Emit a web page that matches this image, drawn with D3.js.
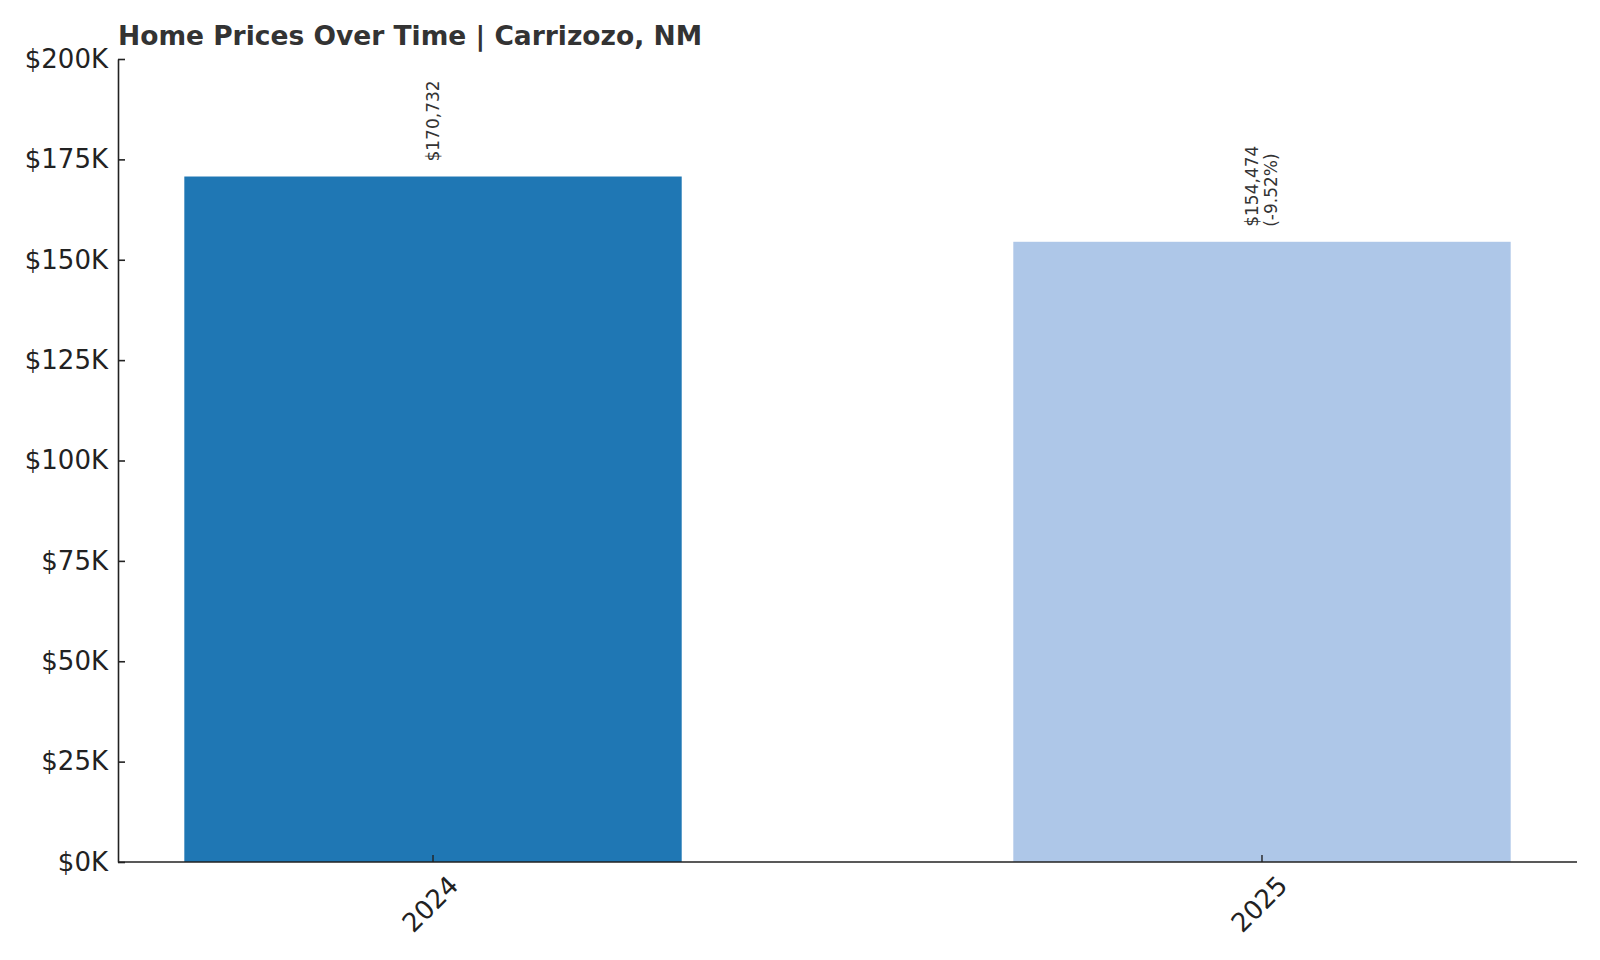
<!DOCTYPE html>
<html>
<head>
<meta charset="utf-8">
<script src="https://cdn.jsdelivr.net/npm/d3@7"></script>
<style>
  body { margin: 0; background: #fff; }
  text { font-family: "DejaVu Sans", sans-serif; }
</style>
</head>
<body>
<script>
var years = ["2024", "2025"];
var prices = [170732, 154474];
var changeLabels = [null, "(-9.52%)"];
var barColors = ["#1f77b4", "#aec7e8"];
var yTicks = [0, 25000, 50000, 75000, 100000, 125000, 150000, 175000, 200000];

var width = 1600, height = 960;
var margin = { left: 118, right: 23, top: 59, bottom: 98 };

var svg = d3.select("body").append("svg")
  .attr("width", width)
  .attr("height", height);

// index scale, bars 0.6 wide with 5% side margins
var xi = d3.scaleLinear().domain([-0.38, 1.38]).range([margin.left, width - margin.right]);
var barW = xi(0.3) - xi(-0.3);

var y = d3.scaleLinear().domain([0, 200000]).range([height - margin.bottom, margin.top]);

svg.selectAll("rect.bar")
  .data(prices)
  .enter().append("rect")
  .attr("class", "bar")
  .attr("x", function(d, i) { return xi(i) - barW / 2; })
  .attr("y", function(d) { return y(d); })
  .attr("width", barW)
  .attr("height", function(d) { return y(0) - y(d); })
  .attr("fill", function(d, i) { return barColors[i]; });

// value labels, rotated
prices.forEach(function(d, i) {
  var g = svg.append("g")
    .attr("transform", "translate(" + xi(i) + "," + (y(d) - 15) + ") rotate(-90)");
  var lines = ["$" + d3.format(",")(d)];
  if (changeLabels[i]) lines.push(changeLabels[i]);
  var t = g.append("text")
    .attr("fill", "#333")
    .attr("font-size", 17)
    .attr("text-anchor", "start");
  var lh = 19;
  lines.forEach(function(l, j) {
    t.append("tspan")
      .attr("x", 0)
      .attr("y", (j - (lines.length - 1) / 2) * lh + 6)
      .text(l);
  });
});

// y axis
var yAxis = d3.axisLeft(y)
  .tickValues(yTicks)
  .tickFormat(function(d) { return "$" + (d / 1000) + "K"; })
  .tickSizeInner(-7)
  .tickSizeOuter(0)
  .tickPadding(10);

var gy = svg.append("g")
  .attr("transform", "translate(" + margin.left + ",0)")
  .call(yAxis);
gy.selectAll("text").attr("font-size", 26).attr("fill", "#222").style("font-family", "DejaVu Sans");
gy.selectAll("line, path").attr("stroke", "#222").attr("stroke-width", 1.6);

// x axis
var gx = svg.append("g")
  .attr("transform", "translate(0," + y(0) + ")");
gx.append("line")
  .attr("x1", margin.left).attr("x2", width - margin.right)
  .attr("stroke", "#222").attr("stroke-width", 1.6);
years.forEach(function(yr, i) {
  gx.append("line")
    .attr("x1", xi(i)).attr("x2", xi(i))
    .attr("y1", 0).attr("y2", -7)
    .attr("stroke", "#222").attr("stroke-width", 1.4);
  gx.append("text")
    .attr("transform", "translate(" + (xi(i) + 14) + ",12) rotate(-45)")
    .attr("text-anchor", "end")
    .attr("dy", "0.71em")
    .attr("font-size", 26)
    .attr("fill", "#222")
    .text(yr);
});

// title
svg.append("text")
  .attr("x", margin.left)
  .attr("y", 45)
  .attr("font-size", 26.5)
  .attr("font-weight", "bold")
  .attr("fill", "#333")
  .text("Home Prices Over Time | Carrizozo, NM");
</script>
</body>
</html>
